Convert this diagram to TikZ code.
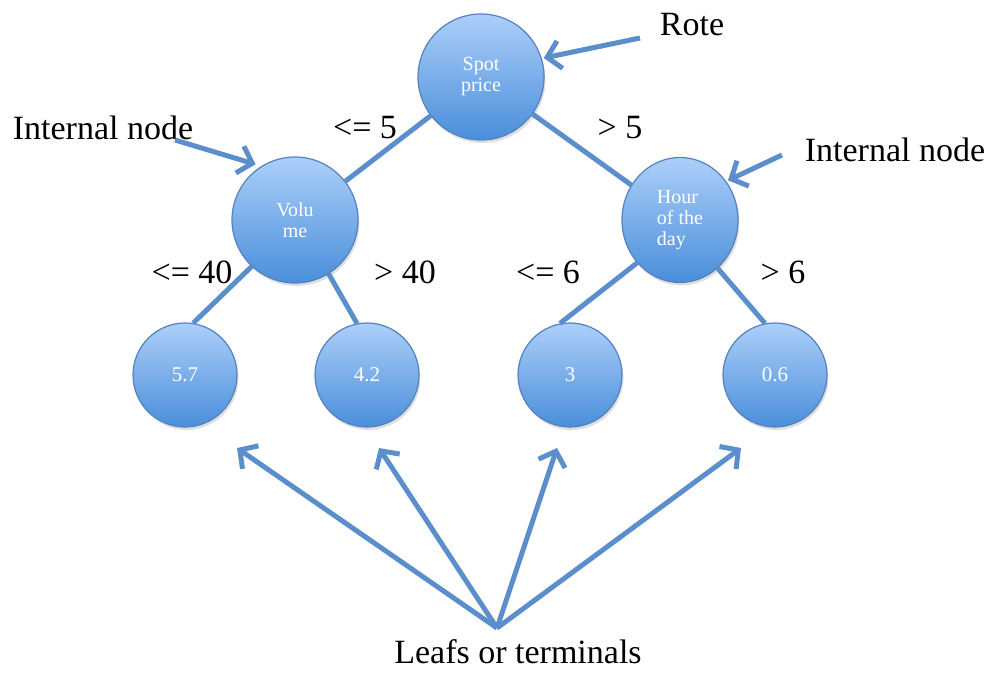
\documentclass[tikz,border=0pt]{standalone}
\usepackage{fontspec}
\setmainfont{Liberation Serif}
\usetikzlibrary{arrows.meta, shapes.geometric, shadows}

\definecolor{edgeblue}{RGB}{91,143,204}
\definecolor{rimblue}{RGB}{84,130,190}
\definecolor{toplight}{RGB}{172,207,250}
\definecolor{botdark}{RGB}{74,142,218}

\begin{document}
\begin{tikzpicture}[
    x=1pt, y=-1pt,
    split/.style={circle, draw=rimblue, line width=1.2pt,
                  top color=toplight, bottom color=botdark,
                  minimum size=126pt, inner sep=0pt, text=white,
                  font=\fontsize{20}{21}\selectfont, align=center,
                  drop shadow={opacity=0.25, shadow xshift=1.5pt,
                               shadow yshift=-3pt}},
    leaf/.style={split, minimum size=104pt,
                 font=\fontsize{21}{22}\selectfont},
    branch/.style={draw=edgeblue, line width=5pt},
    lbl/.style={font=\fontsize{34}{38}\selectfont},
    pointer/.style={draw=edgeblue, line width=5pt,
                    -{Straight Barb[length=13pt, width=28pt]}}
  ]
  \useasboundingbox (0,0) rectangle (990,673);

  % Tree nodes
  \node[split] (spot) at (481,77) {Spot\\price};
  \node[split] (vol) at (295,220) {Volu\\me};
  \node[split, ellipse, minimum width=116pt, minimum height=125pt,
        align=left] (hour) at (680,220) {Hour\\of the\\day};

  \node[leaf] (l1) at (185,375) {5.7};
  \node[leaf] (l2) at (367,375) {4.2};
  \node[leaf] (l3) at (570,375) {3};
  \node[leaf] (l4) at (775,375) {0.6};

  % Branches
  \draw[branch] (spot) -- (vol);
  \draw[branch] (spot) -- (hour);
  \draw[branch] (vol.227) -- (l1.81);
  \draw[branch] (vol.302) -- (l2.101);
  \draw[branch] (hour.225) -- (l3.101);
  \draw[branch] (hour.308) -- (l4.101);

  % Branch labels
  \node[lbl] (c1) at (365,128) {<= 5};
  \node[lbl] (c2) at (620,128) {> 5};
  \node[lbl] (c3) at (192,272) {<= 40};
  \node[lbl] (c4) at (405,272) {> 40};
  \node[lbl] (c5) at (548,272) {<= 6};
  \node[lbl] (c6) at (783,272) {> 6};

  % Annotations
  \node[lbl] (rote) at (692,25) {Rote};
  \node[lbl] (inL) at (103,128) {Internal node};
  \node[lbl] (inR) at (895,150) {Internal node};
  \node[lbl] (leafs) at (518,652) {Leafs or terminals};

  \coordinate (roteTail) at (640,38);
  \coordinate (inLTail) at (175,140);
  \coordinate (inRTail) at (782,155);
  \draw[pointer, shorten >=2pt] (roteTail) -- (spot.17);
  \draw[pointer, shorten >=6pt] (inLTail) -- (vol.122);
  \draw[pointer, shorten >=2pt] (inRTail) -- (hour.40);

  % Fan towards the leaves
  \coordinate (fan) at (497,628);
  \coordinate (t1) at (237,448);
  \coordinate (t2) at (379,448);
  \coordinate (t3) at (557,448);
  \coordinate (t4) at (741,448);
  \foreach \t in {t1,t2,t3,t4}
    \draw[pointer] (fan) -- (\t);
\end{tikzpicture}
\end{document}
